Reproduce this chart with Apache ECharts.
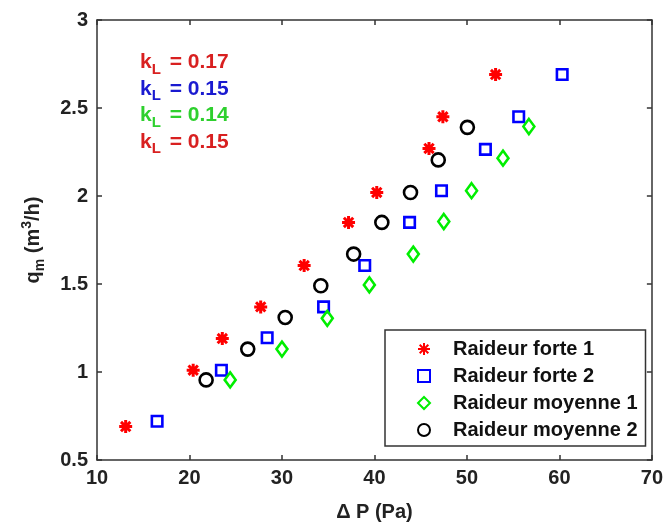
<!DOCTYPE html>
<html>
<head>
<meta charset="utf-8">
<style>html,body{margin:0;padding:0;background:#fff}#c{width:666px;height:527px}</style>
<script src="https://cdn.jsdelivr.net/npm/echarts@6/dist/echarts.min.js"></script>
</head>
<body>
<div id="c"></div>
<script>
// ---- data ----
const seriesNames = ['Raideur forte 1', 'Raideur forte 2', 'Raideur moyenne 1', 'Raideur moyenne 2'];
const forte1 = [[13.1,0.69],[20.4,1.01],[23.55,1.19],[27.7,1.37],[32.4,1.605],[37.2,1.85],[40.25,2.02],[45.9,2.27],[47.4,2.45],[53.1,2.69]];
const forte2 = [[16.5,0.72],[23.45,1.01],[28.4,1.195],[34.5,1.37],[38.95,1.605],[43.8,1.85],[47.25,2.03],[52.0,2.265],[55.6,2.45],[60.3,2.69]];
const moyenne1 = [[24.4,0.955],[30.0,1.13],[34.9,1.305],[39.45,1.495],[44.2,1.67],[47.5,1.855],[50.5,2.03],[53.9,2.215],[56.7,2.395]];
const moyenne2 = [[21.8,0.955],[26.3,1.13],[30.35,1.31],[34.2,1.49],[37.75,1.67],[40.8,1.85],[43.9,2.02],[46.9,2.205],[50.05,2.39]];
const kLabels = ['0.17', '0.15', '0.14', '0.15'];
const xTicks = {min: 10, max: 70, interval: 10};
const yTicks = {min: 0.5, max: 3, interval: 0.5};

const FONT = 'Liberation Sans, Arial, sans-serif';
const AX = '#333333';
const markerColors = ['#ff0000', '#0000ff', '#00ee00', '#000000'];
const textColors = ['#d82020', '#1a1ad0', '#2ed02e', '#d82020'];
const asterisk = 'path://M5,0L5,10M0,5L10,5M1.4,1.4L8.6,8.6M1.4,8.6L8.6,1.4';

const chart = echarts.init(document.getElementById('c'), null, {renderer: 'canvas'});

function axisCommon() {
  return {
    axisLine: {show: true, onZero: false, lineStyle: {color: AX, width: 1.5}},
    axisTick: {show: true, inside: true, length: 5, lineStyle: {color: AX, width: 1.5}},
    splitLine: {show: false},
  };
}

const kTexts = kLabels.map((v, i) => ({
  type: 'text',
  left: 140,
  top: 52 + i * 26.5,
  style: {
    text: '{k|k}{s|L}{k| = ' + v + '}',
    rich: {
      k: {fontSize: 21, fontWeight: 'bold', fontFamily: FONT, fill: textColors[i], color: textColors[i]},
      s: {fontSize: 15, fontWeight: 'bold', fontFamily: FONT, fill: textColors[i], color: textColors[i], padding: [14, 3, 0, 0]}
    }
  }
}));

const data = [forte1, forte2, moyenne1, moyenne2];
const symbols = [asterisk, 'rect', 'diamond', 'circle'];
const sizes = [13, 10.5, [11, 15], 13];

const option = {
  backgroundColor: '#fff',
  animation: false,
  grid: {left: 97, right: 13, top: 20, bottom: 66, containLabel: false},
  xAxis: [
    Object.assign(axisCommon(), {
      type: 'value', position: 'bottom', min: xTicks.min, max: xTicks.max, interval: xTicks.interval,
      name: 'Δ P (Pa)', nameLocation: 'middle', nameGap: 42,
      nameTextStyle: {fontSize: 20, fontWeight: 'bold', fontFamily: FONT, color: '#222'},
      axisLabel: {margin: 8, fontSize: 20, fontWeight: 'bold', fontFamily: FONT, color: '#222'}
    }),
    Object.assign(axisCommon(), {
      type: 'value', position: 'top', min: xTicks.min, max: xTicks.max, interval: xTicks.interval,
      axisLabel: {show: false}
    })
  ],
  yAxis: [
    Object.assign(axisCommon(), {
      type: 'value', position: 'left', min: yTicks.min, max: yTicks.max, interval: yTicks.interval,
      name: '{a|q}{s|m}{a| (m}{p|3}{a|/h)}', nameLocation: 'middle', nameGap: 50, nameRotate: 90,
      nameTextStyle: {
        color: '#222',
        rich: {
          a: {fontSize: 20, fontWeight: 'bold', fontFamily: FONT, color: '#222'},
          s: {fontSize: 14, fontWeight: 'bold', fontFamily: FONT, color: '#222', padding: [14, 0, 0, 0]},
          p: {fontSize: 14, fontWeight: 'bold', fontFamily: FONT, color: '#222', padding: [0, 0, 12, 0]}
        }
      },
      axisLabel: {margin: 9, fontSize: 20, fontWeight: 'bold', fontFamily: FONT, color: '#222'}
    }),
    Object.assign(axisCommon(), {
      type: 'value', position: 'right', min: yTicks.min, max: yTicks.max, interval: yTicks.interval,
      axisLabel: {show: false}
    })
  ],
  legend: {
    orient: 'vertical',
    left: 385, top: 330,
    padding: [9, 8, 6, 32],
    itemGap: 7,
    itemWidth: 12, itemHeight: 12,
    borderColor: AX, borderWidth: 1.5,
    backgroundColor: '#fff',
    data: seriesNames,
    textStyle: {fontSize: 20, fontWeight: 'bold', fontFamily: FONT, color: '#111', lineHeight: 20, padding: [0, 0, 0, 18]}
  },
  series: data.map((d, i) => ({
    type: 'scatter',
    name: seriesNames[i],
    xAxisIndex: 0, yAxisIndex: 0,
    data: d,
    symbol: symbols[i],
    symbolSize: sizes[i],
    itemStyle: {color: 'rgba(0,0,0,0)', borderColor: markerColors[i], borderWidth: i === 0 ? 3 : 2.6, opacity: 1}
  })),
  graphic: kTexts
};
chart.setOption(option);
</script>
</body>
</html>
